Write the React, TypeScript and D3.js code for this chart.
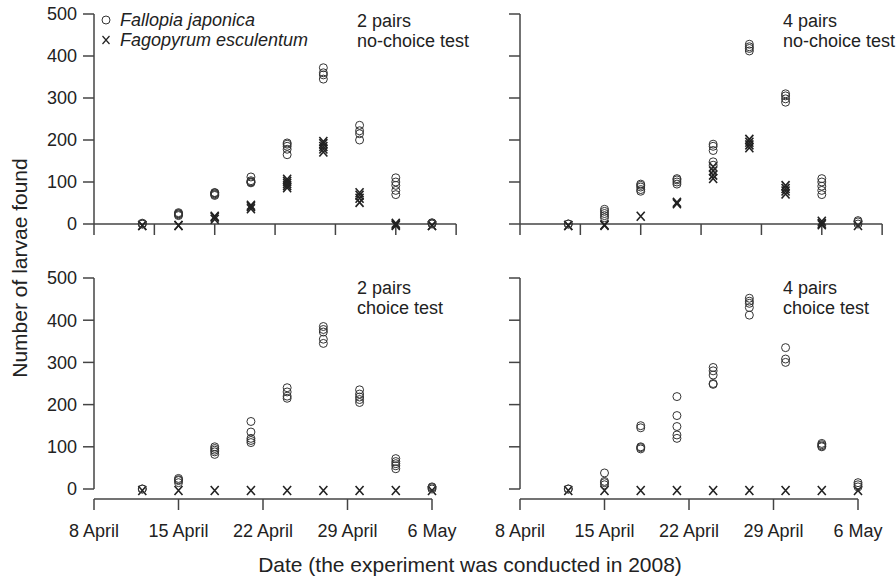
import React from "react";
import * as d3 from "d3";

// sampling dates (every 3 days, 2008)
const sampleDates = [
  "2008-04-12", "2008-04-15", "2008-04-18", "2008-04-21", "2008-04-24",
  "2008-04-27", "2008-04-30", "2008-05-03", "2008-05-06",
];

// replicate counts per date
const fallopia2NoChoice = [
  [0, 2, 0], [20, 22, 25, 27, 24], [68, 72, 75, 70, 74], [98, 100, 103, 112, 100],
  [165, 178, 185, 190, 193], [345, 355, 360, 372], [200, 215, 222, 235],
  [70, 80, 92, 100, 110], [0, 2, 3],
];
const fagopyrum2NoChoice = [
  [0, 0], [0, 0], [15, 20, 22], [40, 45, 48], [90, 95, 100, 105, 110],
  [175, 182, 188, 195, 200], [55, 65, 72, 78], [0, 2, 5], [0, 0],
];
const fallopia4NoChoice = [
  [0, 0], [15, 20, 25, 30, 35], [78, 82, 88, 92, 95], [95, 100, 105, 108],
  [175, 185, 190, 140, 148], [412, 418, 422, 428], [290, 298, 305, 310],
  [70, 80, 90, 100, 108], [0, 5, 8],
];
const fagopyrum4NoChoice = [
  [0, 0], [0, 2], [22], [52, 55], [112, 120, 130, 140], [185, 192, 198, 205],
  [75, 82, 88, 95], [2, 5, 10], [0],
];
const fallopia2Choice = [
  [0, 0], [15, 20, 22, 25], [82, 88, 92, 96, 100], [110, 115, 120, 135, 160],
  [215, 220, 230, 240], [345, 355, 372, 378, 385], [205, 212, 218, 225, 235],
  [48, 55, 60, 65, 72], [0, 3, 5],
];
const fagopyrum2Choice = [[0], [0], [0], [0], [0], [0], [0], [0], [0]];
const fallopia4Choice = [
  [0, 0], [10, 15, 18, 38], [95, 98, 100, 145, 150], [120, 128, 148, 174, 219],
  [248, 250, 270, 280, 288], [412, 430, 440, 445, 452], [300, 308, 335],
  [100, 102, 105, 108], [5, 10, 15],
];
const fagopyrum4Choice = [[0], [0], [0], [0], [0], [0], [0], [0], [0]];

const yTicks = [0, 100, 200, 300, 400, 500];
const legendLabels = ["Fallopia japonica", "Fagopyrum esculentum"];
const panelTitles = [
  ["2 pairs", "no-choice test"],
  ["4 pairs", "no-choice test"],
  ["2 pairs", "choice test"],
  ["4 pairs", "choice test"],
];

const W = 896;
const H = 579;
const FONT = "'Liberation Sans', Arial, Helvetica, sans-serif";
const AXIS = "#444";
const INK = "#222";

const parse = d3.timeParse("%Y-%m-%d");
const dates = sampleDates.map((s) => parse(s) as Date);
const start = parse("2008-04-08") as Date;
const end = parse("2008-05-06") as Date;
const fmt = d3.timeFormat("%-d %B");

type Panel = {
  left: number;
  top: boolean;
  circles: number[][];
  crosses: number[][];
  title: string[];
  yLabels: boolean;
  legend: boolean;
};

const panels: Panel[] = [
  { left: 94, top: true, circles: fallopia2NoChoice, crosses: fagopyrum2NoChoice, title: panelTitles[0], yLabels: true, legend: true },
  { left: 520, top: true, circles: fallopia4NoChoice, crosses: fagopyrum4NoChoice, title: panelTitles[1], yLabels: false, legend: false },
  { left: 94, top: false, circles: fallopia2Choice, crosses: fagopyrum2Choice, title: panelTitles[2], yLabels: true, legend: false },
  { left: 520, top: false, circles: fallopia4Choice, crosses: fagopyrum4Choice, title: panelTitles[3], yLabels: false, legend: false },
];

const Cross = ({ x, y }: { x: number; y: number }) => (
  <path
    d={`M${x - 4},${y - 4}L${x + 4},${y + 5}M${x + 4},${y - 4}L${x - 4},${y + 5}`}
    stroke={INK}
    strokeWidth={1.6}
    fill="none"
  />
);

const PanelView = ({ p }: { p: Panel }) => {
  const x = d3.scaleTime().domain([start, end]).range([p.left, p.left + 338]);
  const y = d3
    .scaleLinear()
    .domain([0, 500])
    .range(p.top ? [224, 14] : [489, 278]);
  const y0 = y(0);
  // top panels: axis drawn at y=0, unlabeled ticks every 5 days
  // bottom panels: detached axis with weekly labels
  const xTicks = p.top
    ? d3.timeDay.range(start, d3.timeDay.offset(end, 3), 5)
    : d3.timeDay.range(start, d3.timeDay.offset(end, 1), 7);
  const axisY = p.top ? y0 : y0 + 10;
  const x1 = x(xTicks[xTicks.length - 1]);
  const tx = p.left + 263;
  const ty = p.top ? 27 : 294;

  return (
    <g>
      {/* y axis */}
      <line x1={p.left} x2={p.left} y1={y(500)} y2={y0} stroke={AXIS} strokeWidth={1.5} />
      {yTicks.map((t) => (
        <g key={t}>
          <line x1={p.left - 11} x2={p.left} y1={y(t)} y2={y(t)} stroke={AXIS} strokeWidth={1.5} />
          {p.yLabels && (
            <text x={p.left - 17} y={y(t)} dy="0.35em" textAnchor="end" fontSize={18} fill={INK} fontFamily={FONT}>
              {t}
            </text>
          )}
        </g>
      ))}
      {/* x axis */}
      <line x1={p.left} x2={x1} y1={axisY} y2={axisY} stroke={AXIS} strokeWidth={1.5} />
      {xTicks.map((t, i) => (
        <g key={i}>
          <line x1={x(t)} x2={x(t)} y1={axisY} y2={axisY + 11} stroke={AXIS} strokeWidth={1.5} />
          {!p.top && (
            <text x={x(t)} y={537} textAnchor="middle" fontSize={18} fill={INK} fontFamily={FONT}>
              {fmt(t)}
            </text>
          )}
        </g>
      ))}
      {/* data */}
      {dates.map((d, i) => (
        <g key={i}>
          {p.crosses[i].map((v, j) => (
            <Cross key={`x${j}`} x={x(d)} y={y(v) + 1} />
          ))}
          {p.circles[i].map((v, j) => (
            <circle key={`o${j}`} cx={x(d)} cy={y(v)} r={4} fill="none" stroke="#333" strokeWidth={1} />
          ))}
        </g>
      ))}
      {/* panel label */}
      <text x={tx} y={ty} fontSize={18} fill={INK} fontFamily={FONT}>
        <tspan x={tx}>{p.title[0]}</tspan>
        <tspan x={tx} dy={20}>{p.title[1]}</tspan>
      </text>
      {p.legend && (
        <g fontFamily={FONT} fontSize={18} fill={INK}>
          <circle cx={106} cy={20} r={4} fill="none" stroke="#333" strokeWidth={1} />
          <text x={120} y={26} fontStyle="italic">{legendLabels[0]}</text>
          <path d="M102.5,36L109.5,44M109.5,36L102.5,44" stroke={INK} strokeWidth={1.2} fill="none" />
          <text x={120} y={46} fontStyle="italic">{legendLabels[1]}</text>
        </g>
      )}
    </g>
  );
};

export default function App() {
  return (
    <svg
      width={W}
      height={H}
      viewBox={`0 0 ${W} ${H}`}
      style={{ position: "absolute", left: 0, top: 0, background: "#fff" }}
    >
      {panels.map((p, i) => (
        <PanelView key={i} p={p} />
      ))}
      <text
        transform={`translate(27,268) rotate(-90)`}
        textAnchor="middle"
        fontSize={21}
        fill={INK}
        fontFamily={FONT}
      >
        Number of larvae found
      </text>
      <text x={470} y={572} textAnchor="middle" fontSize={21} fill={INK} fontFamily={FONT}>
        Date (the experiment was conducted in 2008)
      </text>
    </svg>
  );
}
